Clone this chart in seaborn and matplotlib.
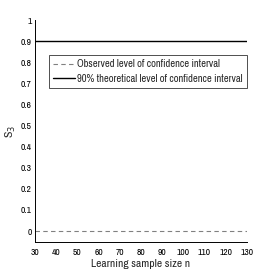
import matplotlib
matplotlib.use("Agg")
import matplotlib.pyplot as plt
import seaborn as sns
import pandas as pd

n_values = [30, 40, 50, 60, 70, 80, 90, 100, 110, 120, 130]
observed = [0, 0, 0, 0, 0, 0, 0, 0, 0, 0, 0]
theoretical = [0.9, 0.9, 0.9, 0.9, 0.9, 0.9, 0.9, 0.9, 0.9, 0.9, 0.9]
xticks = [30, 40, 50, 60, 70, 80, 90, 100, 110, 120, 130]
yticks = [0, 0.1, 0.2, 0.3, 0.4, 0.5, 0.6, 0.7, 0.8, 0.9, 1]

sns.set_style("white")
plt.rcParams['font.family'] = ['Archivo Narrow', 'DejaVu Sans']

df = pd.DataFrame({"n": n_values, "obs": observed, "theo": theoretical})

fig = plt.figure(figsize=(2.73, 2.73), dpi=100)
ax = fig.add_axes([35/273, 31/273, 212/273, 222/273])
sns.lineplot(data=df, x="n", y="obs", ax=ax, color="#808080", linestyle=(0, (4, 3)),
             linewidth=0.8, label="Observed level of confidence interval")
sns.lineplot(data=df, x="n", y="theo", ax=ax, color="black", linewidth=1.0,
             label="90% theoretical level of confidence interval")
ax.set_xlim(30, 130)
ax.set_ylim(-0.052, 1.0)
ax.set_xticks(xticks)
ax.set_xticklabels([str(t) for t in xticks])
ax.set_yticks(yticks)
ax.set_yticklabels(["0", "0.1", "0.2", "0.3", "0.4", "0.5", "0.6", "0.7", "0.8", "0.9", "1"])
ax.tick_params(direction="in", length=2.5, width=0.6, labelsize=6.8, colors="black")
ax.tick_params(axis="x", pad=4.5)
ax.tick_params(axis="y", pad=2.5)
for s in ["top", "right"]:
    ax.spines[s].set_visible(False)
for s in ["left", "bottom"]:
    ax.spines[s].set_color("black")
    ax.spines[s].set_linewidth(0.7)
ax.set_xlabel("Learning sample size n", fontsize=8.3, labelpad=1)
ax.set_ylabel("S$_3$", fontsize=8.5, labelpad=2)
leg = ax.legend(loc="upper right", bbox_to_anchor=(1.0, 0.842), fontsize=7.6,
                frameon=True, fancybox=False, handlelength=2.1, borderpad=0.4,
                labelspacing=0.42, handletextpad=0.2, borderaxespad=0)
leg.get_frame().set_edgecolor("black")
leg.get_frame().set_linewidth(0.6)
fig.savefig("out.png", dpi=100)
